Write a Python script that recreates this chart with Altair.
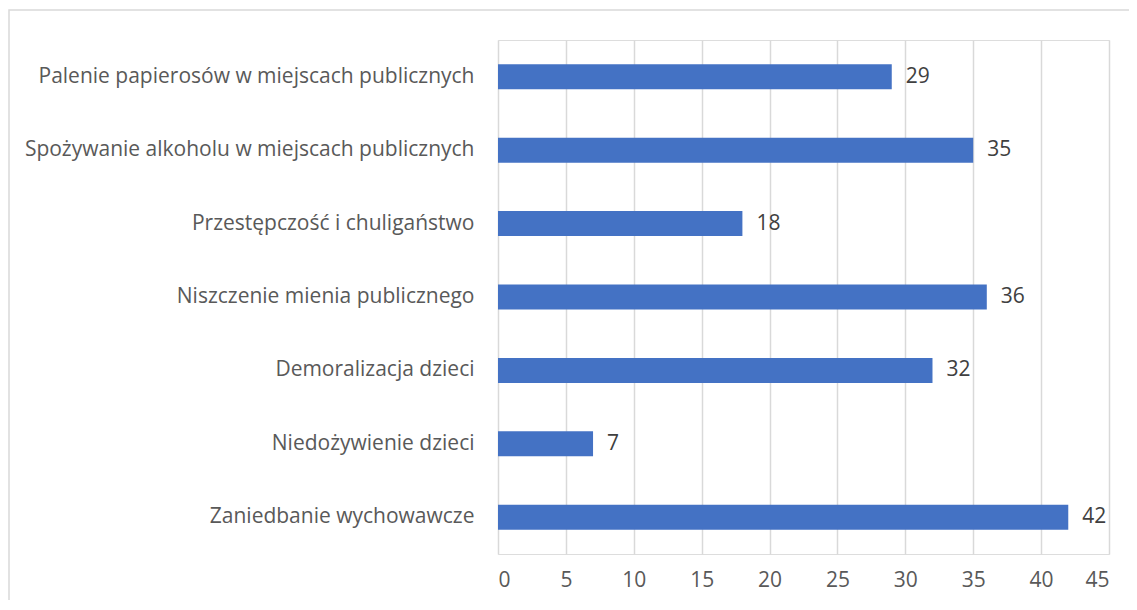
import altair as alt
import pandas as pd

categories = [
    "Palenie papierosów w miejscach publicznych",
    "Spożywanie alkoholu w miejscach publicznych",
    "Przestępczość i chuligaństwo",
    "Niszczenie mienia publicznego",
    "Demoralizacja dzieci",
    "Niedożywienie dzieci",
    "Zaniedbanie wychowawcze",
]
values = [29, 35, 18, 36, 32, 7, 42]
x_ticks = [0, 5, 10, 15, 20, 25, 30, 35, 40, 45]

df = pd.DataFrame({"kategoria": categories, "wartosc": values})

FONT = "Open Sans"
FS = 21

y_enc = alt.Y(
    "kategoria:N",
    sort=categories,
    title=None,
    scale=alt.Scale(paddingInner=0.66, paddingOuter=0.33),
    axis=alt.Axis(
        ticks=False,
        domain=False,
        grid=False,
        labelPadding=24,
        labelLimit=600,
        labelFontSize=FS,
        labelFont=FONT,
        labelColor="#595959",
    ),
)
x_enc = alt.X(
    "wartosc:Q",
    title=None,
    scale=alt.Scale(domain=[0, 45], nice=False),
    axis=alt.Axis(
        values=x_ticks,
        ticks=False,
        domain=False,
        grid=True,
        gridColor="#d9d9d9",
        gridWidth=1.5,
        labelPadding=15,
        labelFontSize=FS,
        labelFont=FONT,
        labelColor="#595959",
    ),
)

bars = alt.Chart(df).mark_bar(color="#4472c4").encode(x=x_enc, y=y_enc)

labels = alt.Chart(df).mark_text(
    align="left", baseline="middle", dx=14, fontSize=FS, font=FONT, color="#404040"
).encode(x="wartosc:Q", y=alt.Y("kategoria:N", sort=categories), text="wartosc:Q")

frame = alt.Chart(df).mark_rect(
    fill=None, stroke="#d9d9d9", strokeWidth=1.5
).encode(
    x=alt.value(-489), x2=alt.value(660), y=alt.value(-30), y2=alt.value(600)
).transform_filter(alt.datum.kategoria == categories[0])

chart = (
    alt.layer(frame, bars, labels)
    .properties(
        width=611,
        height=514,
        padding={"left": 490, "top": 32, "right": 20, "bottom": 46},
        autosize=alt.AutoSizeParams(type="none"),
    )
    .configure_view(stroke=None)
    .configure(background="white")
)

chart.save("out.html", embed_options={"renderer": "svg", "actions": False})
